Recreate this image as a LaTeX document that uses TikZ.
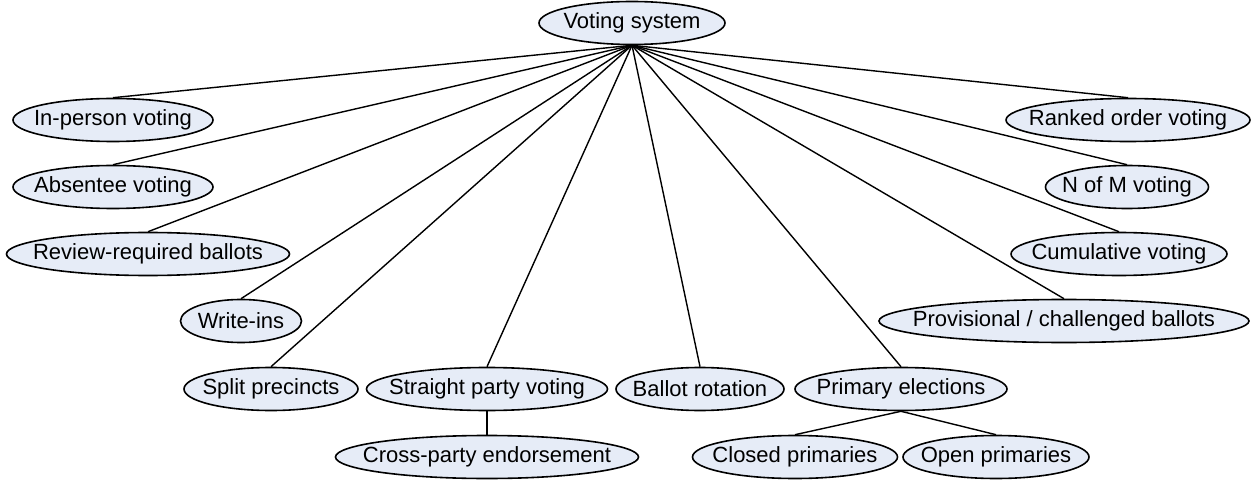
\documentclass[tikz,border=0pt]{standalone}
\usepackage{fontspec}
\setmainfont{Liberation Sans}
\usetikzlibrary{shapes.geometric}

\begin{document}
\begin{tikzpicture}[x=1pt, y=-1pt]
	\definecolor{votefill}{HTML}{E6ECF7}
	\tikzset{topic/.style={ellipse, draw, fill=votefill, line width=1.6pt,
			inner xsep=-100pt, inner ysep=-30pt, minimum height=43pt,
			font=\fontsize{22}{26}\selectfont}}
	\useasboundingbox (0,0) rectangle (1253,481);
	\node [topic, minimum width=186pt] (vote) at (632,23) {Voting system};
	% left side
	\node [topic, minimum width=200pt] (inperson) at (113,120) {In-person voting};
	\node [topic, minimum width=200pt] (absentee) at (113,187) {Absentee voting};
	\node [topic, minimum width=283pt] (review) at (148,254) {Review-required ballots};
	\node [topic, minimum width=121pt] (writeins) at (241,321) {Write-ins};
	\node [topic, minimum width=174pt] (split) at (271,389) {Split precincts};
	% bottom
	\node [topic, minimum width=241pt] (straight) at (487,389) {Straight party voting};
	\node [topic, minimum width=303pt] (crossparty) at (487,457) {Cross-party endorsement};
	\node [topic, minimum width=168pt] (rotation) at (700,389) {Ballot rotation};
	\node [topic, minimum width=212pt] (primary) at (901,389) {Primary elections};
	\node [topic, minimum width=205pt] (closed) at (795,457) {Closed primaries};
	\node [topic, minimum width=186pt] (open) at (996,457) {Open primaries};
	% right side
	\node [topic, minimum width=370pt] (provisional) at (1064,321) {Provisional / challenged ballots};
	\node [topic, minimum width=216pt] (cumulative) at (1119,254) {Cumulative voting};
	\node [topic, minimum width=163pt] (nofm) at (1127,187) {N of M voting};
	\node [topic, minimum width=244pt] (ranked) at (1128,120) {Ranked order voting};

	\begin{scope}[line width=1.4pt]
		\foreach \leaf in {inperson, absentee, review, writeins, split, straight,
				rotation, primary, provisional, cumulative, nofm, ranked}
			\draw (vote.south) -- (\leaf.north);
		\draw (straight.south) -- (crossparty.north);
		\draw (primary.south) -- (closed.north);
		\draw (primary.south) -- (open.north);
	\end{scope}
\end{tikzpicture}
\end{document}
